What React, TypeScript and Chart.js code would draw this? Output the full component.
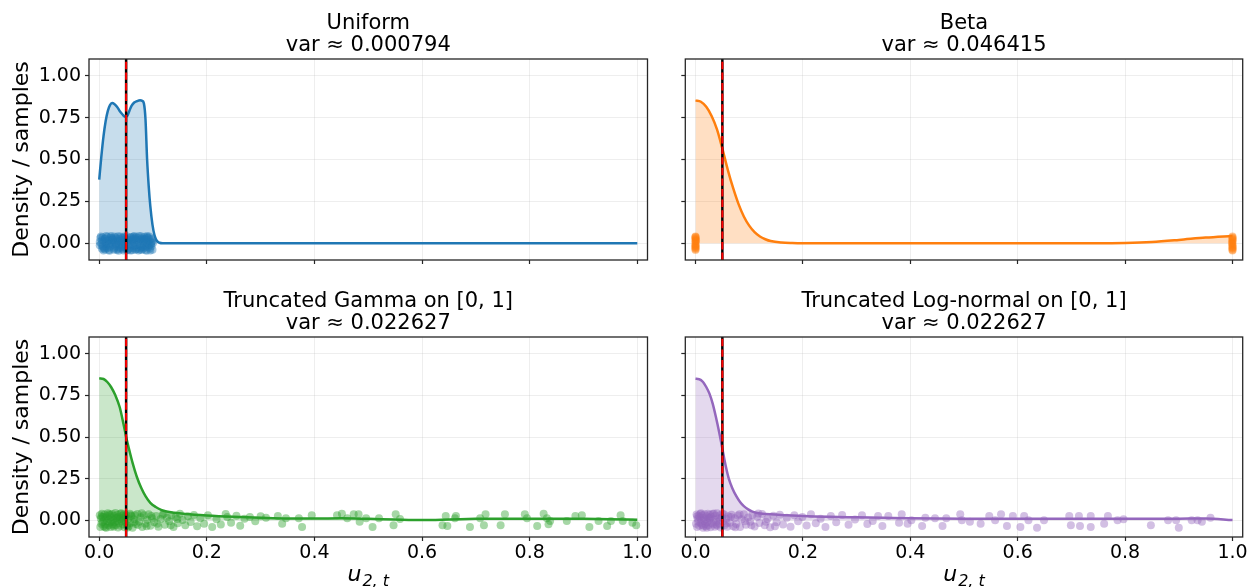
import React, { useEffect, useRef } from "react";
import { Chart, registerables } from "chart.js";

Chart.register(...registerables);

const FONT = "'DejaVu Sans', 'Liberation Sans', sans-serif";

// ---------- axes ----------
const X_TICKS = [0, 0.2, 0.4, 0.6, 0.8, 1.0];
const Y_TICKS = [0, 0.25, 0.5, 0.75, 1.0];
const X_RANGE = [-0.019, 1.019];
const Y_RANGE = [-0.1, 1.1];
const THRESHOLD = 0.05;
const Y_LABEL = "Density / samples";

// ---------- titles ----------
const TITLES = [
  ["Uniform", "var ≈ 0.000794"],
  ["Beta", "var ≈ 0.046415"],
  ["Truncated Gamma on [0, 1]", "var ≈ 0.022627"],
  ["Truncated Log-normal on [0, 1]", "var ≈ 0.022627"],
];

// ---------- density curves [x, density] ----------
const UNIFORM_CURVE = [
  [0, 0.38], [0.004, 0.52], [0.008, 0.64], [0.012, 0.73], [0.016, 0.79], [0.02, 0.825],
  [0.024, 0.837], [0.028, 0.832], [0.033, 0.815], [0.038, 0.79], [0.043, 0.77], [0.048, 0.755],
  [0.052, 0.76], [0.056, 0.79], [0.06, 0.82], [0.065, 0.84], [0.07, 0.848], [0.076, 0.853],
  [0.08, 0.85], [0.083, 0.835], [0.086, 0.74], [0.089, 0.5], [0.092, 0.34], [0.095, 0.22],
  [0.099, 0.11], [0.103, 0.045], [0.107, 0.015], [0.112, 0.003], [0.118, 0], [0.5, 0], [1, 0],
];

const BETA_CURVE = [
  [0, 0.853], [0.01, 0.845], [0.02, 0.815], [0.03, 0.76], [0.04, 0.68], [0.05, 0.565],
  [0.06, 0.44], [0.07, 0.33], [0.08, 0.235], [0.09, 0.16], [0.1, 0.105], [0.11, 0.066],
  [0.12, 0.04], [0.13, 0.024], [0.14, 0.013], [0.16, 0.004], [0.18, 0.001], [0.2, 0],
  [0.5, 0], [0.75, 0], [0.8, 0.002], [0.85, 0.008], [0.9, 0.02], [0.95, 0.034], [1.0, 0.044],
];

const GAMMA_CURVE = [
  [0, 0.852], [0.008, 0.848], [0.015, 0.83], [0.022, 0.8], [0.03, 0.75], [0.038, 0.68],
  [0.045, 0.58], [0.05, 0.5], [0.056, 0.42], [0.062, 0.345], [0.07, 0.26], [0.078, 0.195],
  [0.086, 0.145], [0.095, 0.105], [0.105, 0.08], [0.115, 0.063], [0.125, 0.053], [0.14, 0.045],
  [0.16, 0.038], [0.2, 0.029], [0.25, 0.021], [0.3, 0.015], [0.35, 0.011], [0.4, 0.011],
  [0.45, 0.012], [0.5, 0.009], [0.55, 0.005], [0.6, 0.002], [0.65, 0.005], [0.7, 0.009],
  [0.75, 0.01], [0.8, 0.01], [0.85, 0.01], [0.9, 0.009], [0.95, 0.007], [1.0, 0.004],
];

const LOGNORMAL_CURVE = [
  [0, 0.849], [0.007, 0.847], [0.014, 0.83], [0.02, 0.8], [0.026, 0.76], [0.032, 0.7],
  [0.038, 0.62], [0.044, 0.53], [0.05, 0.43], [0.056, 0.33], [0.062, 0.25], [0.069, 0.19],
  [0.076, 0.145], [0.083, 0.11], [0.09, 0.085], [0.098, 0.066], [0.105, 0.054], [0.113, 0.046],
  [0.125, 0.04], [0.14, 0.036], [0.17, 0.031], [0.2, 0.026], [0.25, 0.021], [0.3, 0.018],
  [0.35, 0.015], [0.4, 0.012], [0.5, 0.01], [0.6, 0.01], [0.7, 0.009], [0.8, 0.009],
  [0.9, 0.01], [0.95, 0.011], [1.0, 0.002],
];

// ---------- jittered samples [x, jitter] ----------
const UNIFORM_SAMPLES = [
  [0.002, 0.031], [0.071, -0.027], [0.046, 0.012], [0.018, -0.041], [0.089, 0.036], [0.032, -0.006],
  [0.06, 0.022], [0.012, 0.004], [0.097, -0.018], [0.054, -0.038], [0.025, 0.027], [0.083, -0.009],
  [0.039, 0.041], [0.066, 0.001], [0.007, -0.023], [0.092, 0.015], [0.049, -0.03], [0.015, 0.039],
  [0.077, 0.024], [0.035, -0.034], [0.058, 0.033], [0.001, -0.012], [0.086, -0.04], [0.043, 0.02],
  [0.021, -0.017], [0.068, 0.038], [0.094, -0.031], [0.029, 0.009], [0.051, 0.042], [0.08, -0.022],
  [0.01, 0.026], [0.063, -0.015], [0.037, -0.025], [0.099, 0.029], [0.024, -0.003], [0.074, 0.011],
  [0.045, -0.043], [0.005, 0.018], [0.088, 0.005], [0.056, -0.02], [0.031, 0.035], [0.069, -0.036],
  [0.016, 0.013], [0.093, 0.04], [0.041, -0.011], [0.079, 0.03], [0.027, -0.039], [0.062, 0.017],
  [0.009, -0.032], [0.085, 0.021], [0.052, 0.003], [0.02, -0.026], [0.073, -0.044], [0.038, 0.025],
  [0.096, -0.007], [0.047, 0.034], [0.013, -0.019], [0.065, 0.043], [0.034, 0.014], [0.081, -0.033],
  [0.003, 0.04], [0.057, -0.004], [0.091, -0.024], [0.023, 0.032], [0.076, -0.014], [0.044, 0.007],
  [0.011, -0.037], [0.067, 0.028], [0.098, 0.01], [0.03, -0.021], [0.053, 0.023], [0.084, 0.039],
  [0.019, 0.001], [0.061, -0.042], [0.04, -0.028], [0.09, -0.001], [0.006, 0.036], [0.072, 0.008],
  [0.036, -0.045], [0.059, 0.037], [0.026, 0.016], [0.087, -0.016], [0.048, -0.024], [0.014, -0.005],
  [0.078, 0.042], [0.033, 0.026], [0.064, -0.029], [0.095, 0.024], [0.022, 0.044], [0.05, -0.013],
  [0.082, 0.006], [0.008, -0.043], [0.07, -0.01], [0.042, 0.031], [0.017, 0.021], [0.075, -0.038],
  [0.055, 0.011], [0.028, -0.031], [0.1, 0.002], [0.004, -0.003],
  [0.013, 0.044], [0.044, -0.036], [0.086, 0.028], [0.058, -0.044], [0.027, 0.006], [0.069, 0.019],
  [0.093, -0.012], [0.035, 0.042], [0.005, -0.033], [0.078, -0.027], [0.049, 0.026], [0.019, -0.045],
  [0.063, 0.039], [0.099, -0.039], [0.031, -0.014], [0.074, 0.044], [0.041, 0.003], [0.009, 0.012],
  [0.088, -0.045], [0.054, 0.016],
  [0.001, 0.007], [0.015, -0.028], [0.024, 0.019], [0.037, -0.004], [0.046, 0.041], [0.057, -0.031],
  [0.066, -0.017], [0.072, 0.033], [0.081, 0.014], [0.091, 0.031], [0.097, 0.005], [0.006, -0.016],
  [0.021, 0.034], [0.033, -0.041], [0.043, -0.02], [0.052, -0.042], [0.061, 0.009], [0.079, -0.04],
  [0.085, -0.026], [0.095, -0.044], [0.011, 0.029], [0.028, 0.041], [0.039, 0.015], [0.067, -0.039],
  [0.076, 0.02], [0.089, 0.044], [0.018, -0.008], [0.048, 0.004], [0.064, 0.029], [0.083, 0.025],
];

const BETA_SAMPLES = [
  [0, 0.038], [0, -0.041], [0, 0.012], [0, -0.018], [0, 0.027], [0, -0.006], [0, 0.033],
  [0, -0.029], [0, 0.004], [0, -0.035], [0, 0.021], [0, -0.012], [0, 0.041], [0, -0.023],
  [0.001, 0.016], [1, 0.035], [1, -0.039], [1, 0.009], [1, -0.021], [1, 0.028], [1, -0.004],
  [1, 0.04], [1, -0.031], [1, 0.017], [1, -0.013], [0.999, 0.001], [1, -0.044], [1, 0.023],
  [1, -0.026],
];

const GAMMA_SAMPLES = [
  [0.001, 0.03], [0.002, -0.04], [0.003, 0.01], [0.004, -0.02], [0.005, 0.04], [0.006, -0.01],
  [0.007, 0.02], [0.008, -0.035], [0.009, 0.0], [0.01, 0.035], [0.011, -0.025], [0.012, 0.015],
  [0.013, -0.045], [0.014, 0.025], [0.015, -0.005], [0.016, 0.042], [0.017, -0.03], [0.018, 0.008],
  [0.019, -0.015], [0.02, 0.03], [0.021, -0.04], [0.022, 0.018], [0.023, -0.008], [0.024, 0.038],
  [0.025, -0.022], [0.026, 0.004], [0.027, -0.038], [0.028, 0.026], [0.029, -0.012], [0.03, 0.044],
  [0.031, -0.028], [0.032, 0.012], [0.033, -0.002], [0.034, 0.033], [0.035, -0.043], [0.036, 0.02],
  [0.037, -0.018], [0.038, 0.006], [0.039, 0.04], [0.04, -0.033], [0.041, 0.014], [0.042, -0.006],
  [0.043, 0.028], [0.044, -0.024], [0.045, 0.002], [0.046, 0.036], [0.047, -0.041], [0.048, 0.022],
  [0.049, -0.01], [0.05, 0.032], [0.052, -0.03], [0.054, 0.01], [0.055, -0.036], [0.057, 0.04],
  [0.058, -0.016], [0.06, 0.024], [0.062, -0.044], [0.064, 0.006], [0.066, 0.03], [0.068, -0.022],
  [0.071, 0.038], [0.074, -0.008], [0.077, 0.018], [0.08, -0.04], [0.083, 0.03], [0.086, -0.02],
  [0.089, 0.004], [0.092, 0.036], [0.095, -0.032], [0.098, 0.012], [0.102, -0.012], [0.106, 0.026],
  [0.11, -0.038], [0.114, 0.008], [0.118, 0.034], [0.122, -0.026], [0.126, 0.016], [0.13, -0.006],
  [0.134, 0.03], [0.138, -0.04], [0.142, 0.02], [0.146, -0.018], [0.15, 0.04], [0.155, 0.002],
  [0.16, -0.03], [0.165, 0.024], [0.17, -0.01], [0.176, 0.032], [0.182, -0.036], [0.188, 0.012],
  [0.195, -0.02], [0.202, 0.03], [0.21, -0.04], [0.218, 0.006], [0.226, -0.025], [0.235, 0.038],
  [0.238, 0.02], [0.245, -0.015], [0.255, 0.028], [0.262, -0.032], [0.27, 0.01], [0.28, 0.02],
  [0.29, -0.005], [0.3, 0.025], [0.31, 0.015], [0.332, 0.026], [0.34, -0.02], [0.347, 0.012],
  [0.371, 0.012], [0.377, -0.04], [0.395, 0.03], [0.442, 0.03], [0.451, 0.04], [0.461, 0.012],
  [0.473, 0.036], [0.482, 0.036], [0.484, -0.008], [0.496, 0.012], [0.508, -0.04], [0.52, 0.012],
  [0.547, -0.03], [0.551, 0.036], [0.559, 0.008], [0.638, -0.03], [0.644, 0.026], [0.647, -0.034],
  [0.661, 0.012], [0.663, 0.026], [0.689, -0.04], [0.708, 0.012], [0.715, -0.03], [0.718, 0.036],
  [0.746, -0.03], [0.754, 0.036], [0.791, 0.036], [0.795, 0.012], [0.814, -0.034], [0.826, 0.04],
  [0.832, 0.012], [0.835, -0.024], [0.838, -0.004], [0.869, -0.004], [0.885, 0.026], [0.897, 0.03],
  [0.911, -0.04], [0.928, -0.004], [0.944, -0.034], [0.951, -0.004], [0.969, 0.03], [0.973, -0.004],
  [0.991, -0.014], [0.998, -0.03],
  [0.004, 0.022], [0.011, -0.042], [0.019, 0.036], [0.026, -0.031], [0.033, 0.016], [0.041, 0.042],
  [0.047, 0.011], [0.053, -0.043], [0.059, 0.031], [0.065, -0.011], [0.072, -0.028], [0.079, 0.042],
  [0.088, -0.036], [0.097, 0.026], [0.108, -0.02], [0.12, 0.04], [0.133, -0.03], [0.145, 0.008],
];

const LOGNORMAL_SAMPLES = [
  [0.001, -0.02], [0.002, 0.035], [0.003, -0.04], [0.004, 0.01], [0.005, -0.008], [0.006, 0.028],
  [0.007, -0.033], [0.008, 0.019], [0.009, -0.015], [0.01, 0.042], [0.011, 0.002], [0.012, -0.027],
  [0.013, 0.031], [0.014, -0.044], [0.015, 0.014], [0.016, -0.003], [0.017, 0.037], [0.018, -0.022],
  [0.019, 0.007], [0.02, -0.036], [0.021, 0.024], [0.022, -0.011], [0.023, 0.04], [0.024, -0.029],
  [0.025, 0.016], [0.026, -0.001], [0.027, 0.033], [0.028, -0.041], [0.029, 0.021], [0.03, -0.018],
  [0.032, 0.038], [0.033, -0.025], [0.034, 0.005], [0.036, -0.038], [0.037, 0.027], [0.038, -0.009],
  [0.04, 0.043], [0.041, -0.032], [0.043, 0.012], [0.044, -0.02], [0.046, 0.03], [0.047, -0.043],
  [0.049, 0.018], [0.051, -0.006], [0.053, 0.036], [0.055, -0.028], [0.057, 0.009], [0.059, -0.039],
  [0.061, 0.025], [0.064, -0.014], [0.067, 0.034], [0.07, -0.035], [0.073, 0.013], [0.076, -0.022],
  [0.079, 0.029], [0.083, -0.04], [0.086, 0.006], [0.09, 0.037], [0.094, -0.026], [0.098, 0.017],
  [0.102, -0.009], [0.106, 0.032], [0.11, -0.037], [0.115, 0.022], [0.119, -0.016], [0.124, 0.038],
  [0.129, -0.03], [0.134, 0.008], [0.139, -0.042], [0.145, 0.027], [0.151, -0.012], [0.157, 0.034],
  [0.163, -0.025], [0.17, 0.015], [0.177, -0.038], [0.184, 0.03], [0.191, -0.006], [0.199, 0.02],
  [0.207, -0.031], [0.215, 0.036], [0.224, -0.018], [0.233, 0.01], [0.242, -0.04], [0.252, 0.026],
  [0.262, -0.012], [0.273, 0.032], [0.285, -0.027], [0.297, 0.005], [0.31, 0.03], [0.32, -0.022],
  [0.33, -0.004], [0.34, 0.026], [0.348, -0.034], [0.359, 0.026], [0.379, -0.014], [0.384, 0.036],
  [0.395, -0.02], [0.402, 0.0], [0.422, -0.034], [0.428, 0.016], [0.446, 0.012], [0.46, -0.034],
  [0.467, 0.012], [0.493, 0.036], [0.496, 0.0], [0.511, -0.008], [0.531, -0.02], [0.547, 0.026],
  [0.558, 0.0], [0.569, 0.036], [0.58, -0.034], [0.591, 0.026], [0.605, -0.04], [0.612, 0.026],
  [0.62, 0.0], [0.636, -0.044], [0.649, 0.0], [0.696, 0.026], [0.699, -0.03], [0.714, 0.026],
  [0.716, -0.034], [0.736, 0.026], [0.736, -0.04], [0.761, -0.02], [0.768, 0.026], [0.786, 0.0],
  [0.797, 0.006], [0.848, -0.03], [0.88, 0.0], [0.895, 0.0], [0.9, -0.044], [0.924, 0.0],
  [0.935, 0.0], [0.943, -0.008], [0.959, 0.016],
  [0.003, 0.024], [0.009, 0.038], [0.015, -0.032], [0.021, -0.045], [0.027, 0.012], [0.034, 0.041],
  [0.039, -0.026], [0.045, -0.001], [0.05, 0.04], [0.058, -0.018], [0.066, 0.02], [0.074, -0.042],
  [0.082, 0.036], [0.092, -0.005], [0.104, -0.03], [0.117, 0.041], [0.131, -0.008], [0.148, -0.035],
];

// ---------- colours ----------
const COLORS = ["#1f77b4", "#ff7f0e", "#2ca02c", "#9467bd"];

function rgba(hex: string, a: number) {
  const n = parseInt(hex.slice(1), 16);
  return `rgba(${(n >> 16) & 255},${(n >> 8) & 255},${n & 255},${a})`;
}

type PanelSpec = {
  title: string[];
  color: string;
  curve: number[][];
  samples: number[][];
  showXLabels: boolean;
  showYLabels: boolean;
  box: { left: number; top: number; width: number; height: number };
  area: { left: number; top: number; right: number; bottom: number };
};

const PANELS: PanelSpec[] = [
  {
    title: TITLES[0], color: COLORS[0], curve: UNIFORM_CURVE, samples: UNIFORM_SAMPLES,
    showXLabels: false, showYLabels: true,
    box: { left: 0, top: 0, width: 660, height: 285 },
    area: { left: 89, top: 59, right: 647.5, bottom: 260 },
  },
  {
    title: TITLES[1], color: COLORS[1], curve: BETA_CURVE, samples: BETA_SAMPLES,
    showXLabels: false, showYLabels: false,
    box: { left: 660, top: 0, width: 589, height: 285 },
    area: { left: 25.3, top: 59, right: 582.7, bottom: 260 },
  },
  {
    title: TITLES[2], color: COLORS[2], curve: GAMMA_CURVE, samples: GAMMA_SAMPLES,
    showXLabels: true, showYLabels: true,
    box: { left: 0, top: 285, width: 660, height: 302 },
    area: { left: 89, top: 52, right: 647.5, bottom: 252 },
  },
  {
    title: TITLES[3], color: COLORS[3], curve: LOGNORMAL_CURVE, samples: LOGNORMAL_SAMPLES,
    showXLabels: true, showYLabels: false,
    box: { left: 660, top: 285, width: 589, height: 302 },
    area: { left: 25.3, top: 52, right: 582.7, bottom: 252 },
  },
];

const decorPlugin = {
  id: "decor",
  afterDraw(chart: any, _args: any, opts: any) {
    const { ctx, chartArea: a } = chart;
    ctx.save();
    // axes frame
    ctx.strokeStyle = "#262626";
    ctx.lineWidth = 1.3;
    ctx.strokeRect(a.left, a.top, a.right - a.left, a.bottom - a.top);
    // titles
    const cx = (a.left + a.right) / 2;
    ctx.fillStyle = "#000";
    ctx.textAlign = "center";
    ctx.textBaseline = "alphabetic";
    ctx.font = `21px ${FONT}`;
    ctx.fillText(opts.title[0], cx, a.top - 30);
    ctx.fillText(opts.title[1], cx, a.top - 8);
    // y label
    if (opts.yLabel) {
      ctx.save();
      ctx.translate(22, (a.top + a.bottom) / 2);
      ctx.rotate(-Math.PI / 2);
      ctx.textBaseline = "middle";
      ctx.font = `22px ${FONT}`;
      ctx.fillText(Y_LABEL, 0, 0);
      ctx.restore();
    }
    // x label u_{2,t}
    if (opts.xLabel) {
      const base = a.bottom + 44;
      ctx.textAlign = "left";
      ctx.font = `italic 22px ${FONT}`;
      const wu = ctx.measureText("u").width;
      ctx.font = `italic 16px ${FONT}`;
      const ws = ctx.measureText("2, t").width;
      const x0 = cx - (wu + ws + 1) / 2;
      ctx.font = `italic 22px ${FONT}`;
      ctx.fillText("u", x0, base);
      ctx.font = `italic 16px ${FONT}`;
      ctx.fillText("2, t", x0 + wu + 1, base + 5);
    }
    ctx.restore();
  },
};

function Panel({ spec }: { spec: PanelSpec }) {
  const ref = useRef<HTMLCanvasElement | null>(null);
  useEffect(() => {
    const canvas = ref.current;
    if (!canvas) return;
    const { box, area } = spec;
    const yWidth = area.left;
    const xHeight = box.height - area.bottom;
    const vline = [
      { x: THRESHOLD, y: Y_RANGE[0] },
      { x: THRESHOLD, y: Y_RANGE[1] },
    ];
    const chart = new Chart(canvas, {
      type: "scatter",
      data: {
        datasets: [
          {
            type: "line",
            data: spec.curve.map(([x, y]) => ({ x, y })),
            borderColor: spec.color,
            borderWidth: 2.5,
            pointRadius: 0,
            showLine: true,
            fill: "origin",
            backgroundColor: rgba(spec.color, 0.25),
            cubicInterpolationMode: "monotone",
            order: 3,
          },
          {
            type: "scatter",
            data: spec.samples.map(([x, y]) => ({ x, y })),
            pointRadius: 4,
            pointBorderWidth: 0,
            pointBackgroundColor: rgba(spec.color, 0.42),
            backgroundColor: rgba(spec.color, 0.42),
            borderColor: "transparent",
            order: 2,
          },
          {
            type: "line",
            data: vline,
            borderColor: "#000000",
            borderWidth: 2.5,
            pointRadius: 0,
            showLine: true,
            fill: false,
            order: 1,
          },
          {
            type: "line",
            data: vline,
            borderColor: "#ff0000",
            borderWidth: 2,
            borderDash: [7.4, 3.2],
            pointRadius: 0,
            showLine: true,
            fill: false,
            order: 0,
          },
        ],
      } as any,
      options: {
        responsive: false,
        animation: false,
        devicePixelRatio: 1,
        events: [],
        layout: {
          padding: { left: 0, top: area.top, right: box.width - area.right, bottom: 0 },
        },
        plugins: {
          legend: { display: false },
          tooltip: { enabled: false },
          title: { display: false },
          decor: {
            title: spec.title,
            yLabel: spec.showYLabels,
            xLabel: spec.showXLabels,
          },
        } as any,
        scales: {
          x: {
            type: "linear",
            min: X_RANGE[0],
            max: X_RANGE[1],
            afterBuildTicks: (s: any) => {
              s.ticks = X_TICKS.map((v) => ({ value: v }));
            },
            afterFit: (s: any) => {
              s.height = xHeight;
            },
            ticks: {
              display: spec.showXLabels,
              autoSkip: false,
              maxRotation: 0,
              padding: 1,
              color: "#000",
              font: { family: FONT, size: 19 },
              callback: (v: any) => Number(v).toFixed(1),
            },
            grid: {
              color: "rgba(176,176,176,0.22)",
              lineWidth: 1,
              tickColor: "#262626",
              tickLength: 4,
              tickWidth: 1.2,
            },
            border: { display: false },
          },
          y: {
            type: "linear",
            min: Y_RANGE[0],
            max: Y_RANGE[1],
            afterBuildTicks: (s: any) => {
              s.ticks = Y_TICKS.map((v) => ({ value: v }));
            },
            afterFit: (s: any) => {
              s.width = yWidth;
            },
            ticks: {
              display: spec.showYLabels,
              autoSkip: false,
              padding: 4,
              color: "#000",
              font: { family: FONT, size: 19 },
              callback: (v: any) => Number(v).toFixed(2),
            },
            grid: {
              color: "rgba(176,176,176,0.22)",
              lineWidth: 1,
              tickColor: "#262626",
              tickLength: 4,
              tickWidth: 1.2,
            },
            border: { display: false },
          },
        },
      } as any,
      plugins: [decorPlugin],
    });
    return () => chart.destroy();
  }, [spec]);

  return (
    <div
      style={{
        position: "absolute",
        left: spec.box.left,
        top: spec.box.top,
        width: spec.box.width,
        height: spec.box.height,
      }}
    >
      <canvas
        ref={ref}
        width={spec.box.width}
        height={spec.box.height}
        style={{ display: "block", width: spec.box.width, height: spec.box.height }}
      />
    </div>
  );
}

export default function App() {
  return (
    <div
      style={{
        position: "absolute",
        left: 0,
        top: 0,
        width: 1249,
        height: 587,
        background: "#ffffff",
        overflow: "hidden",
      }}
    >
      {PANELS.map((p, i) => (
        <Panel key={i} spec={p} />
      ))}
    </div>
  );
}
